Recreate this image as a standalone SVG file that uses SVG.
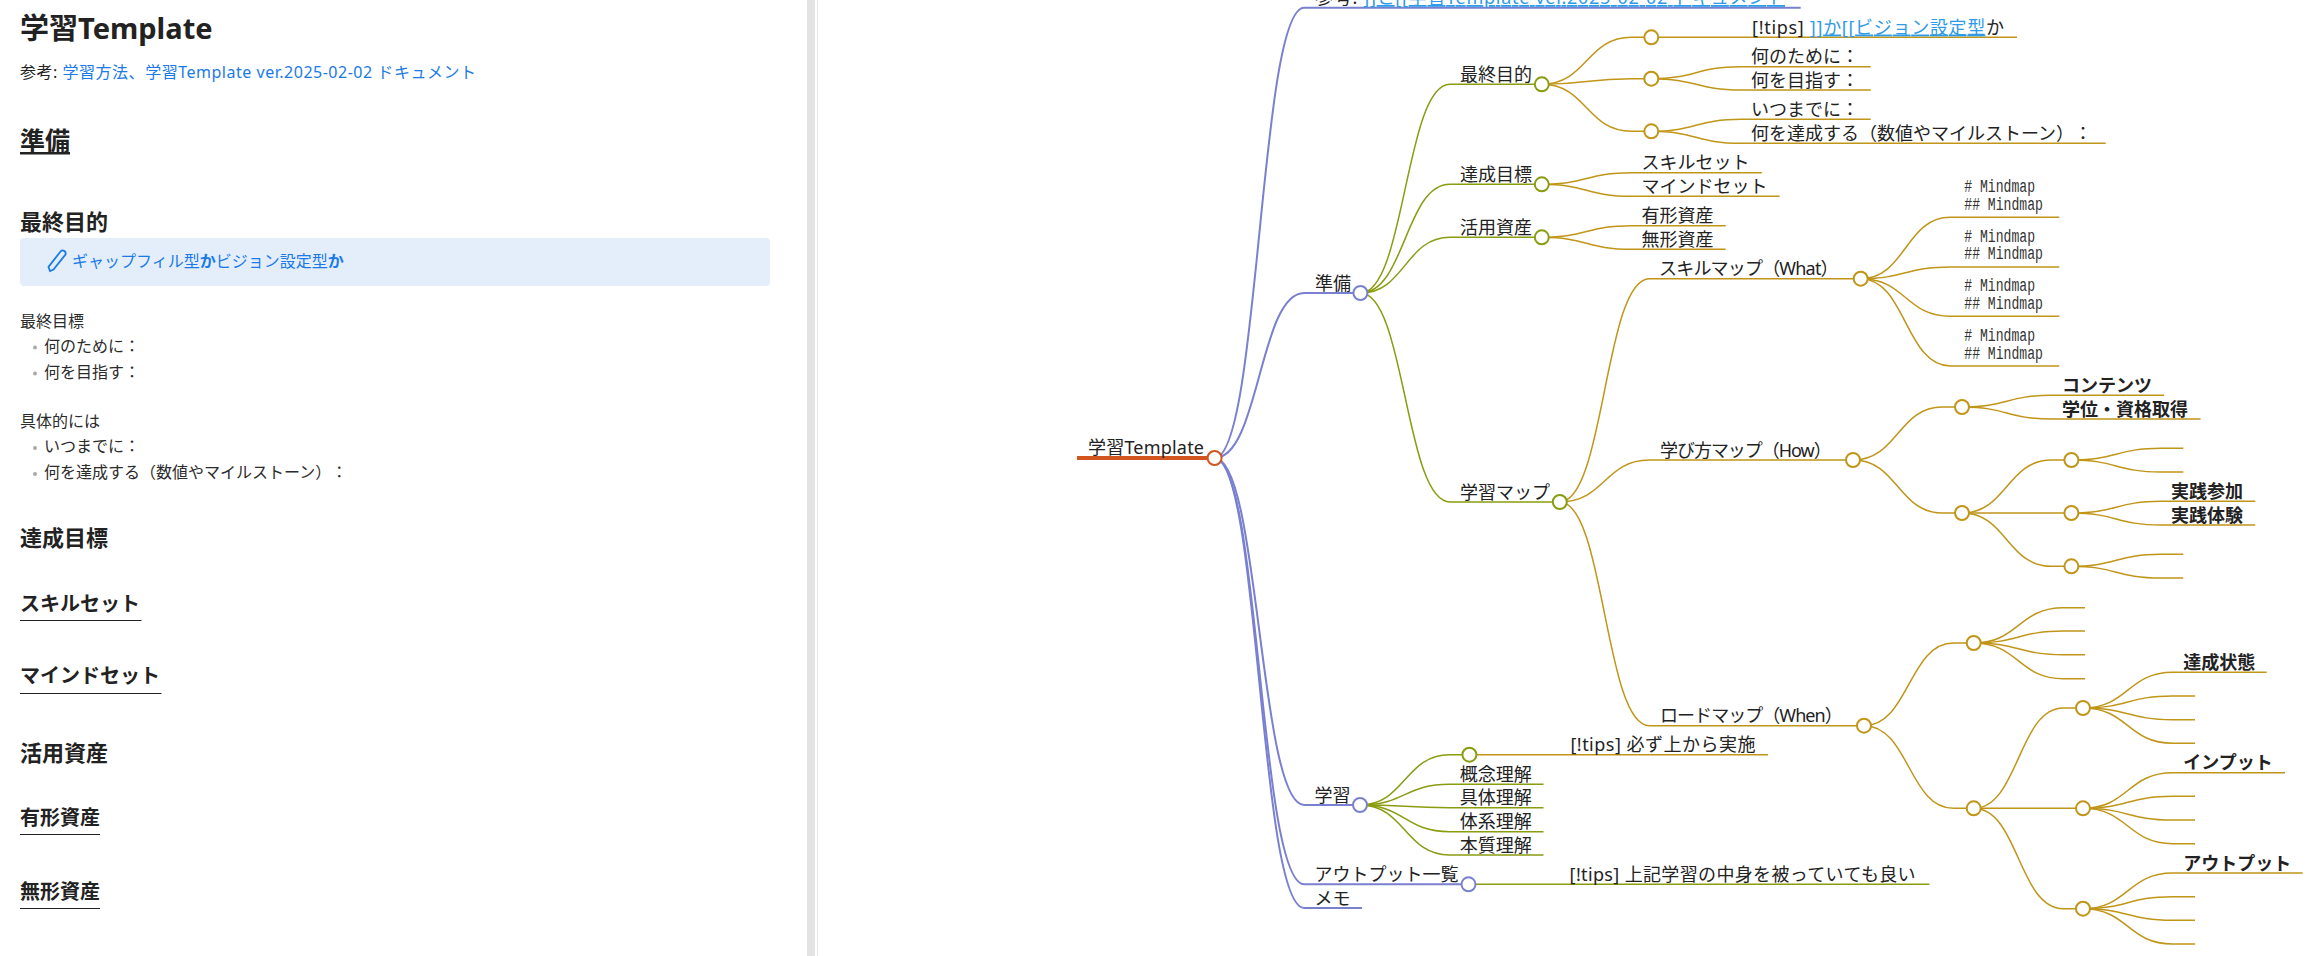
<svg xmlns="http://www.w3.org/2000/svg" width="2314" height="956" viewBox="0 0 2314 956">
<style>
text{font-family:"Noto Sans","Noto Sans CJK JP",sans-serif;fill:#222;white-space:pre;text-spacing-trim:space-all}
.t{font-size:18px}
.b{font-size:18px;font-weight:700}
.m{font-size:18px;font-family:"Liberation Mono",monospace;fill:#333}
.a{fill:#2f9be8;text-decoration:underline}
.pb{font-size:16px;fill:#2b2b2b}
.h2{font-size:22px;font-weight:700}
.h3{font-size:20px;font-weight:700}
.lnk{fill:#1a7ae8}
.u{stroke:#222;stroke-width:1;fill:none}
path{fill:none}
.c0{stroke:#d2541f;stroke-width:4}
.c1{stroke:#7a80d0;stroke-width:2}
.c2{stroke:#8a9c10;stroke-width:1.5}
.c3{stroke:#c09518;stroke-width:1.5}
circle{fill:#fff;stroke-width:2}
.bl{fill:#aaa;stroke:none}
.n0{stroke:#d2541f}.n1{stroke:#7a80d0}.n2{stroke:#8a9c10}.n3{stroke:#c09518}
</style>
<rect width="2314" height="956" fill="#fff"/>
<g id="panel">
<text x="20" y="39" style="font-size:29px;font-weight:700">学習Template</text>
<text x="20" y="78" style="font-size:16px" textLength="456">参考: <tspan class="lnk">学習方法、学習Template ver.2025-02-02 ドキュメント</tspan></text>
<text x="20" y="150" style="font-size:25px;font-weight:700;text-decoration:underline">準備</text>
<text x="20" y="230" class="h2">最終目的</text>
<rect x="20" y="238" width="750" height="48" rx="4" fill="#e4eefb"/>
<path d="M50 271l-1.500-4 12-15.500c2-2.200 6-.5 5 3l-12 15z" stroke="#1a7ae8" stroke-width="1.800"/>
<text x="72" y="267" style="font-size:16px;fill:#1a7ae8">ギャップフィル型<tspan font-weight="700">か</tspan>ビジョン設定型<tspan font-weight="700">か</tspan></text>
<text x="20" y="327" class="pb">最終目標</text>
<circle cx="35" cy="347.500" r="2" class="bl"/>
<text x="44" y="352" class="pb">何のために：</text>
<circle cx="35" cy="373.500" r="2" class="bl"/>
<text x="44" y="378" class="pb">何を目指す：</text>
<text x="20" y="427" class="pb">具体的には</text>
<circle cx="35" cy="448" r="2" class="bl"/>
<text x="44" y="452" class="pb">いつまでに：</text>
<circle cx="35" cy="474" r="2" class="bl"/>
<text x="44" y="478" class="pb">何を達成する（数値やマイルストーン）：</text>
<text x="20" y="546" class="h2">達成目標</text>
<text x="20" y="611" class="h3">スキルセット</text>
<path class="u" d="M20 620.500H141.500"/>
<text x="20" y="683" class="h3">マインドセット</text>
<path class="u" d="M20 693.500H161.500"/>
<text x="20" y="761" class="h2">活用資産</text>
<text x="20" y="825" class="h3">有形資産</text>
<path class="u" d="M20 834.500H100"/>
<text x="20" y="899" class="h3">無形資産</text>
<path class="u" d="M20 908.500H100"/>
<rect x="807" y="0" width="8" height="956" fill="#e3e3e3"/>
<rect x="817" y="0" width="1" height="956" fill="#e8e8f0"/>
</g>
<g id="connectors">
<path class="c0" d="M1077 458H1214.600"/>
<g class="c1">
<path d="M1214.600 458C1259.400 458 1259.400 7.700 1304.200 7.700H1800.700"/>
<path d="M1214.600 458C1259.400 458 1259.400 293 1304.200 293H1360.400"/>
<path d="M1214.600 458C1259.400 458 1259.400 805 1304.200 805H1360"/>
<path d="M1214.600 458C1259.400 458 1259.400 884.300 1304.200 884.300H1468.500"/>
<path d="M1214.600 458C1259.400 458 1259.400 908 1304.200 908H1362"/>
</g>
<g class="c2">
<path d="M1360.400 293C1405.200 293 1405.200 84.300 1450 84.300H1541.800"/>
<path d="M1360.400 293C1405.200 293 1405.200 184.300 1450 184.300H1541.800"/>
<path d="M1360.400 293C1405.200 293 1405.200 237.300 1450 237.300H1541.800"/>
<path d="M1360.400 293C1405.200 293 1405.200 502 1450 502H1559.800"/>
<path d="M1360 805C1404.800 805 1404.800 754.700 1449.600 754.700H1469.400"/>
<path d="M1360 805C1404.800 805 1404.800 784.300 1449.600 784.300H1543.500"/>
<path d="M1360 805C1404.800 805 1404.800 807.700 1449.600 807.700H1543.500"/>
<path d="M1360 805C1404.800 805 1404.800 831.700 1449.600 831.700H1543.500"/>
<path d="M1360 805C1404.800 805 1404.800 855 1449.600 855H1543.500"/>
<path d="M1468.500 884.300H1929.400"/>
</g>
<g class="c3">
<path d="M1469.400 754.700H1768"/>
<path d="M1541.800 84.300C1586.600 84.300 1586.600 37.300 1631.400 37.300H1651.300"/>
<path d="M1541.800 84.300C1586.600 84.300 1586.600 78.700 1631.400 78.700H1651.300"/>
<path d="M1541.800 84.300C1586.600 84.300 1586.600 131.300 1631.400 131.300H1651.300"/>
<path d="M1651.300 37.300H2017"/>
<path d="M1651.300 78.700C1696 78.700 1696 66.700 1741 66.700H1870.700"/>
<path d="M1651.300 78.700C1696 78.700 1696 90 1741 90H1870.700"/>
<path d="M1651.300 131.300C1696 131.300 1696 119.300 1741 119.300H1870.700"/>
<path d="M1651.300 131.300C1696 131.300 1696 143.300 1741 143.300H2105.700"/>
<path d="M1541.800 184.300C1586.600 184.300 1586.600 172.700 1631.400 172.700H1761.800"/>
<path d="M1541.800 184.300C1586.600 184.300 1586.600 196.300 1631.400 196.300H1779.600"/>
<path d="M1541.800 237.300C1586.600 237.300 1586.600 225.700 1631.400 225.700H1725.700"/>
<path d="M1541.800 237.300C1586.600 237.300 1586.600 249.300 1631.400 249.300H1725.700"/>
<path d="M1559.800 502C1604.600 502 1604.600 278.700 1649.400 278.700H1860.700"/>
<path d="M1559.800 502C1604.600 502 1604.600 460 1649.400 460H1853"/>
<path d="M1559.800 502C1604.600 502 1604.600 725.700 1649.400 725.700H1864"/>
<path d="M1860.700 278.700C1905.500 278.700 1905.500 217.300 1950.300 217.300H2059.300"/>
<path d="M1860.700 278.700C1905.500 278.700 1905.500 267 1950.300 267H2059.300"/>
<path d="M1860.700 278.700C1905.500 278.700 1905.500 316.300 1950.300 316.300H2059.300"/>
<path d="M1860.700 278.700C1905.500 278.700 1905.500 366 1950.300 366H2059.300"/>
<path d="M1853 460C1897.800 460 1897.800 407 1942.600 407H1962"/>
<path d="M1853 460C1897.800 460 1897.800 513 1942.600 513H1962"/>
<path d="M1962 407C2006.800 407 2006.800 395.300 2051.600 395.300H2164"/>
<path d="M1962 407C2006.800 407 2006.800 419 2051.600 419H2200.600"/>
<path d="M1962 513C2006.800 513 2006.800 460 2051.600 460H2071.400"/>
<path d="M1962 513H2071.400"/>
<path d="M1962 513C2006.800 513 2006.800 566.300 2051.600 566.300H2071.400"/>
<path d="M2071.400 460C2116.200 460 2116.200 448.300 2161 448.300H2183.300"/>
<path d="M2071.400 460C2116.200 460 2116.200 472 2161 472H2183.300"/>
<path d="M2071.400 513C2116.200 513 2116.200 501.300 2161 501.300H2255.300"/>
<path d="M2071.400 513C2116.200 513 2116.200 525 2161 525H2255.300"/>
<path d="M2071.400 566.300C2116.200 566.300 2116.200 554.300 2161 554.300H2183.300"/>
<path d="M2071.400 566.300C2116.200 566.300 2116.200 578 2161 578H2183.300"/>
<path d="M1864 725.700C1908.800 725.700 1908.800 643 1953.600 643H1973.700"/>
<path d="M1864 725.700C1908.800 725.700 1908.800 808.300 1953.600 808.300H1973.700"/>
<path d="M1973.700 643C2018.500 643 2018.500 607.700 2063.300 607.700H2085"/>
<path d="M1973.700 643C2018.500 643 2018.500 631 2063.300 631H2085"/>
<path d="M1973.700 643C2018.500 643 2018.500 654.700 2063.300 654.700H2085"/>
<path d="M1973.700 643C2018.500 643 2018.500 678.700 2063.300 678.700H2085"/>
<path d="M1973.700 808.300C2018.500 808.300 2018.500 708 2063.300 708H2083"/>
<path d="M1973.700 808.300H2083"/>
<path d="M1973.700 808.300C2018.500 808.300 2018.500 908.700 2063.300 908.700H2083"/>
<path d="M2083 708C2127.800 708 2127.800 672.300 2172.600 672.300H2266.700"/>
<path d="M2083 708C2127.800 708 2127.800 696 2172.600 696H2195"/>
<path d="M2083 708C2127.800 708 2127.800 719.700 2172.600 719.700H2195"/>
<path d="M2083 708C2127.800 708 2127.800 743.300 2172.600 743.300H2195"/>
<path d="M2083 808.300C2127.800 808.300 2127.800 772.700 2172.600 772.700H2285"/>
<path d="M2083 808.300C2127.800 808.300 2127.800 796.300 2172.600 796.300H2195"/>
<path d="M2083 808.300C2127.800 808.300 2127.800 820 2172.600 820H2195"/>
<path d="M2083 808.300C2127.800 808.300 2127.800 843.700 2172.600 843.700H2195"/>
<path d="M2083 908.700C2127.800 908.700 2127.800 873 2172.600 873H2302.700"/>
<path d="M2083 908.700C2127.800 908.700 2127.800 896.700 2172.600 896.700H2195"/>
<path d="M2083 908.700C2127.800 908.700 2127.800 920.300 2172.600 920.300H2195"/>
<path d="M2083 908.700C2127.800 908.700 2127.800 944 2172.600 944H2195"/>
</g>
</g>
<g id="n-root"><text class="t" x="1088" y="454" textLength="116">学習Template</text><circle class="n0" cx="1214.600" cy="458" r="7"/></g>
<g id="n-ref"><text class="t" x="1315" y="4" textLength="470">参考: <tspan class="a">]]と[[学習Template ver.2025-02-02 ドキュメント</tspan></text></g>
<g id="n-junbi"><text class="t" x="1315" y="289.500">準備</text><circle class="n1" cx="1360.400" cy="293" r="7"/></g>
<g id="n-gakushu"><text class="t" x="1314.500" y="801.500">学習</text><circle class="n1" cx="1360" cy="805" r="7"/></g>
<g id="n-output-list"><text class="t" x="1314.500" y="880.500">アウトプット一覧</text><circle class="n1" cx="1468.500" cy="884.300" r="7"/></g>
<g id="n-memo"><text class="t" x="1314.500" y="904.500">メモ</text></g>
<g id="n-goal"><text class="t" x="1460" y="80.500">最終目的</text><circle class="n2" cx="1541.800" cy="84.300" r="7"/></g>
<g id="n-target"><text class="t" x="1460" y="180.500">達成目標</text><circle class="n2" cx="1541.800" cy="184.300" r="7"/></g>
<g id="n-assets"><text class="t" x="1460" y="233.500">活用資産</text><circle class="n2" cx="1541.800" cy="237.300" r="7"/></g>
<g id="n-map"><text class="t" x="1460" y="498.500">学習マップ</text><circle class="n2" cx="1559.800" cy="502" r="7"/></g>
<g id="n-g1"><circle class="n3" cx="1651.300" cy="37.300" r="7"/></g>
<g id="n-g1a"><text class="t" x="1752" y="33.500" textLength="252">[!tips] <tspan class="a">]]か[[ビジョン設定型</tspan>か</text></g>
<g id="n-g2"><circle class="n3" cx="1651.300" cy="78.700" r="7"/></g>
<g id="n-g2a"><text class="t" x="1751" y="63">何のために：</text></g>
<g id="n-g2b"><text class="t" x="1751" y="86.500">何を目指す：</text></g>
<g id="n-g3"><circle class="n3" cx="1651.300" cy="131.300" r="7"/></g>
<g id="n-g3a"><text class="t" x="1751" y="115.500">いつまでに：</text></g>
<g id="n-g3b"><text class="t" x="1751" y="139.500">何を達成する（数値やマイルストーン）：</text></g>
<g id="n-skillset"><text class="t" x="1641.400" y="169">スキルセット</text></g>
<g id="n-mindset"><text class="t" x="1641.400" y="192.500">マインドセット</text></g>
<g id="n-tangible"><text class="t" x="1641.400" y="222">有形資産</text></g>
<g id="n-intangible"><text class="t" x="1641.400" y="245.500">無形資産</text></g>
<g id="n-what"><text class="t" x="1659" y="275" textLength="179.600">スキルマップ（What）</text><circle class="n3" cx="1860.700" cy="278.700" r="7"/></g>
<g id="n-how"><text class="t" x="1660" y="456.500" textLength="171.700">学び方マップ（How）</text><circle class="n3" cx="1853" cy="460" r="7"/></g>
<g id="n-when"><text class="t" x="1660" y="722" textLength="182.700">ロードマップ（When）</text><circle class="n3" cx="1864" cy="725.700" r="7"/></g>
<g id="n-w1"><text class="m" x="1964.300" y="192" textLength="70.700" lengthAdjust="spacingAndGlyphs"># Mindmap</text><text class="m" x="1964.300" y="209.500" textLength="78.600" lengthAdjust="spacingAndGlyphs">## Mindmap</text></g>
<g id="n-w2"><text class="m" x="1964.300" y="241.500" textLength="70.700" lengthAdjust="spacingAndGlyphs"># Mindmap</text><text class="m" x="1964.300" y="259" textLength="78.600" lengthAdjust="spacingAndGlyphs">## Mindmap</text></g>
<g id="n-w3"><text class="m" x="1964.300" y="291" textLength="70.700" lengthAdjust="spacingAndGlyphs"># Mindmap</text><text class="m" x="1964.300" y="308.500" textLength="78.600" lengthAdjust="spacingAndGlyphs">## Mindmap</text></g>
<g id="n-w4"><text class="m" x="1964.300" y="341" textLength="70.700" lengthAdjust="spacingAndGlyphs"># Mindmap</text><text class="m" x="1964.300" y="358.500" textLength="78.600" lengthAdjust="spacingAndGlyphs">## Mindmap</text></g>
<g id="n-h1"><circle class="n3" cx="1962" cy="407" r="7"/></g>
<g id="n-h1a"><text class="b" x="2062" y="391.500">コンテンツ</text></g>
<g id="n-h1b"><text class="b" x="2062" y="415.500">学位・資格取得</text></g>
<g id="n-h2"><circle class="n3" cx="1962" cy="513" r="7"/></g>
<g id="n-h21"><circle class="n3" cx="2071.400" cy="460" r="7"/></g>
<g id="n-h22"><circle class="n3" cx="2071.400" cy="513" r="7"/></g>
<g id="n-h22a"><text class="b" x="2171" y="497.500">実践参加</text></g>
<g id="n-h22b"><text class="b" x="2171" y="521.500">実践体験</text></g>
<g id="n-h23"><circle class="n3" cx="2071.400" cy="566.300" r="7"/></g>
<g id="n-w-1"><circle class="n3" cx="1973.700" cy="643" r="7"/></g>
<g id="n-w-2"><circle class="n3" cx="1973.700" cy="808.300" r="7"/></g>
<g id="n-w21"><circle class="n3" cx="2083" cy="708" r="7"/></g>
<g id="n-w21a"><text class="b" x="2183.300" y="668.500">達成状態</text></g>
<g id="n-w22"><circle class="n3" cx="2083" cy="808.300" r="7"/></g>
<g id="n-w22a"><text class="b" x="2183.300" y="769">インプット</text></g>
<g id="n-w23"><circle class="n3" cx="2083" cy="908.700" r="7"/></g>
<g id="n-w23a"><text class="b" x="2183.300" y="869.500">アウトプット</text></g>
<g id="n-tips1"><text class="t" x="1570.400" y="751" textLength="185">[!tips] 必ず上から実施</text><circle class="n2" cx="1469.400" cy="754.700" r="7"/></g>
<g id="n-c1"><text class="t" x="1459.700" y="780.500">概念理解</text></g>
<g id="n-c2"><text class="t" x="1459.700" y="804">具体理解</text></g>
<g id="n-c3"><text class="t" x="1459.700" y="828">体系理解</text></g>
<g id="n-c4"><text class="t" x="1459.700" y="851.500">本質理解</text></g>
<g id="n-tips2"><text class="t" x="1569.600" y="880.500" textLength="346">[!tips] 上記学習の中身を被っていても良い</text></g>
</svg>
